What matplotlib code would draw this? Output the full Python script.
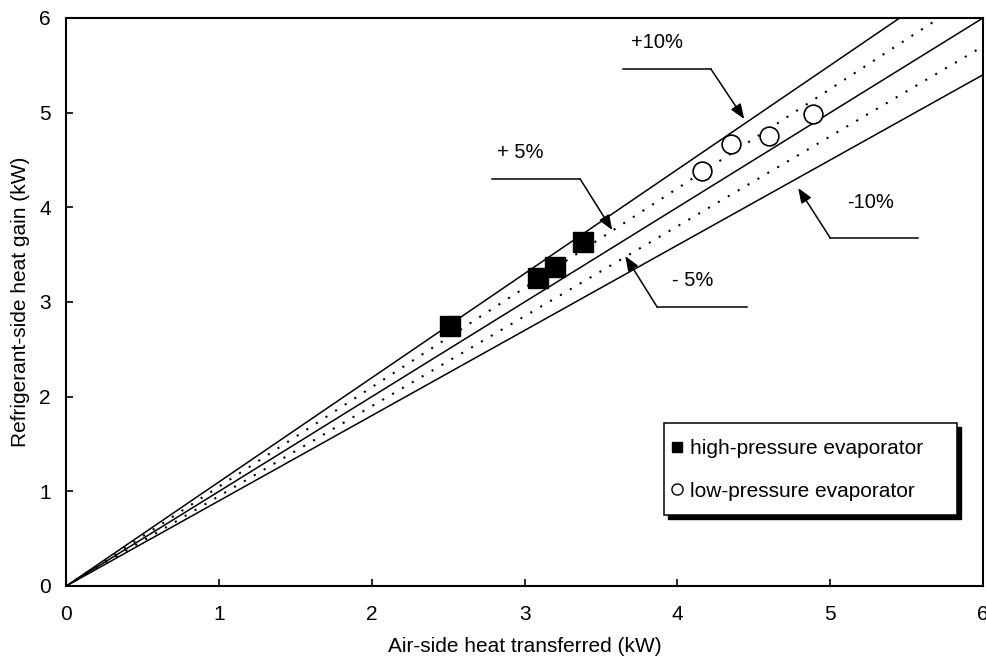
import matplotlib
matplotlib.use("Agg")
import matplotlib.pyplot as plt
from matplotlib.lines import Line2D
from matplotlib.patches import Rectangle
import numpy as np

plt.rcParams['font.family'] = ['Liberation Sans', 'DejaVu Sans']

# measured points
high_x = [2.51, 3.09, 3.20, 3.38]
high_y = [2.75, 3.25, 3.37, 3.63]
low_x = [4.16, 4.35, 4.60, 4.89]
low_y = [4.38, 4.67, 4.75, 4.99]

# deviation lines (ratio refrigerant / air)
solid_ratios = [1.10, 1.00, 0.90]
dotted_ratios = [1.05, 0.95]
line_x = np.array([0, 6.5])

fig = plt.figure(figsize=(9.86, 6.65), dpi=100)
ax = fig.add_axes([0.0672, 0.1188, 0.9298, 0.8542])

for r in solid_ratios:
    ax.plot(line_x, r * line_x, color='black', lw=1.1)
for r in dotted_ratios:
    ax.plot(line_x, r * line_x, color='black', lw=1.5, linestyle=(0, (1, 4.5)))

ax.plot(high_x, high_y, linestyle='none', marker='s', markersize=13.7,
        color='black', zorder=5)
ax.plot(low_x, low_y, linestyle='none', marker='o', markersize=13.5,
        markerfacecolor='white', markeredgecolor='black', markeredgewidth=1.2, zorder=5)

# labels with bent leader arrows
def leader(text, txy, path, tip):
    ax.text(txy[0], txy[1], text, fontsize=14.5, ha='center', va='center')
    px, py = zip(*path)
    ax.plot(px, py, color='black', lw=1.1)
    ax.annotate('', xy=tip, xytext=path[-1],
                arrowprops=dict(arrowstyle='-|>,head_length=0.9,head_width=0.35',
                                color='black', lw=1.1, shrinkA=0, shrinkB=0))

leader('+10%', (3.867, 5.736), [(3.645, 5.461), (4.219, 5.461)], (4.437, 4.933))
leader('+ 5%', (2.97, 4.574), [(2.787, 4.299), (3.363, 4.299)], (3.573, 3.760))
leader('-10%', (5.262, 4.046), [(5.576, 3.676), (5.0, 3.676)], (4.79, 4.204))
leader('- 5%', (4.097, 3.232), [(4.457, 2.947), (3.867, 2.947)], (3.658, 3.486))

ax.set_xlim(0, 6)
ax.set_ylim(0, 6)
ax.set_xticks(range(7))
ax.set_yticks(range(7))
ax.tick_params(direction='in', length=5, width=1.2, labelsize=15)
ax.tick_params(axis='x', pad=14)
ax.tick_params(axis='y', pad=11)
for s in ax.spines.values():
    s.set_linewidth(1.5)

ax.set_xlabel('Air-side heat transferred (kW)', fontsize=15, labelpad=9)
ax.set_ylabel('Refrigerant-side heat gain (kW)', fontsize=15, labelpad=7)

# legend box with solid drop shadow
bx, by, bw, bh = 0.652, 0.125, 0.3194, 0.162
ax.add_patch(Rectangle((bx + 0.0044, by - 0.007), bw, bh, transform=ax.transAxes,
                       facecolor='black', edgecolor='black', clip_on=False, zorder=6))
ax.add_patch(Rectangle((bx, by), bw, bh, transform=ax.transAxes,
                       facecolor='white', edgecolor='black', lw=1.1, clip_on=False, zorder=7))

handles = [
    Line2D([], [], linestyle='none', marker='s', markersize=7.5, color='black'),
    Line2D([], [], linestyle='none', marker='o', markersize=8,
           markerfacecolor='white', markeredgecolor='black'),
]
leg = ax.legend(handles, ['high-pressure evaporator', 'low-pressure evaporator'],
                loc='upper left', bbox_to_anchor=(0.643, 0.287), fontsize=15,
                frameon=False, handlelength=0.5, handletextpad=0.35,
                borderpad=0.78, labelspacing=1.13, borderaxespad=0)
leg.set_zorder(8)

fig.savefig('out.png', dpi=100)
